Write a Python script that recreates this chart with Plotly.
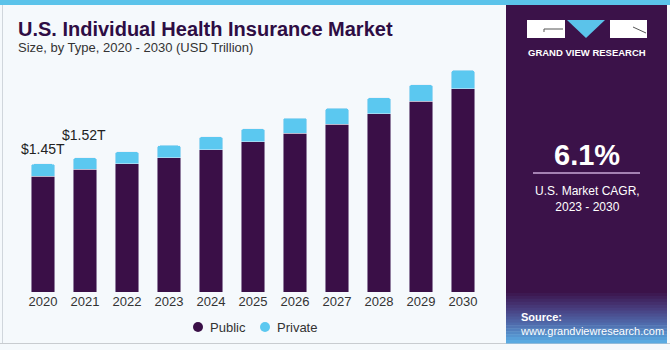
import plotly.graph_objects as go

years = ["2020", "2021", "2022", "2023", "2024", "2025", "2026", "2027", "2028", "2029", "2030"]
public = [1.31, 1.39, 1.45, 1.52, 1.61, 1.70, 1.80, 1.90, 2.02, 2.16, 2.30]
private = [0.14, 0.13, 0.14, 0.14, 0.15, 0.15, 0.17, 0.18, 0.18, 0.19, 0.21]
series_names = ["Public", "Private"]
value_labels = {"2020": "$1.45T", "2021": "$1.52T"}
title = "U.S. Individual Health Insurance Market"
subtitle = "Size, by Type, 2020 - 2030 (USD Trillion)"
cagr = "6.1%"
cagr_text = "U.S. Market CAGR,<br>2023 - 2030"

W, H = 670, 350
L, R, T, B = 22, 484, 62, 292
SCALE = 88.28  # px per trillion
DARK = "#3a0f47"
LIGHT = "#5bc8f0"
BG = "#f5f9fc"
PANEL = "#3b1249"
FONT = "Liberation Sans"


def px(x):
    return (x - L) / (R - L)


def py(y):
    return (B - y) / (B - T)


fig = go.Figure()
fig.add_trace(go.Bar(x=years, y=public, name=series_names[0], marker_color=DARK, showlegend=False))
fig.add_trace(go.Bar(x=years, y=private, name=series_names[1], marker_color=LIGHT, showlegend=False))

shapes = []
shapes.append(dict(type="rect", xref="paper", yref="paper", x0=px(0), x1=px(W), y0=py(0), y1=py(5),
                   fillcolor="#5bc3ea", line_width=0, layer="below"))
shapes.append(dict(type="line", xref="paper", yref="paper", x0=px(2.5), x1=px(2.5), y0=py(5), y1=py(343),
                   line=dict(color="#d0d6dc", width=1), layer="below"))
shapes.append(dict(type="line", xref="paper", yref="paper", x0=px(0), x1=px(W), y0=py(343.5), y1=py(343.5),
                   line=dict(color="#c8ccd0", width=1), layer="below"))
shapes.append(dict(type="rect", xref="paper", yref="paper", x0=px(506), x1=px(667), y0=py(5), y1=py(290),
                   fillcolor=PANEL, line_width=0, layer="below"))
stops = [(59, 18, 73), (72, 60, 125), (80, 110, 175), (90, 170, 225)]
n = 18
y0, y1 = 290, 343
for i in range(n):
    t = i / (n - 1)
    seg = t * (len(stops) - 1)
    k = min(int(seg), len(stops) - 2)
    f = seg - k
    c = tuple(int(stops[k][j] + (stops[k + 1][j] - stops[k][j]) * f) for j in range(3))
    ya = y0 + (y1 - y0) * i / n
    yb = y0 + (y1 - y0) * (i + 1) / n + 0.5
    shapes.append(dict(type="rect", xref="paper", yref="paper", x0=px(506), x1=px(667), y0=py(ya), y1=py(yb),
                       fillcolor="rgb(%d,%d,%d)" % c, line_width=0, layer="below"))
shapes.append(dict(type="rect", xref="paper", yref="paper", x0=px(527), x1=px(565), y0=py(20), y1=py(38),
                   fillcolor="white", line_width=0))
shapes.append(dict(type="rect", xref="paper", yref="paper", x0=px(610), x1=px(647), y0=py(20), y1=py(38),
                   fillcolor="white", line_width=0))
shapes.append(dict(type="path", xref="paper", yref="paper",
                   path="M %f %f L %f %f L %f %f Z" % (px(567), py(20), px(605), py(20), px(586), py(38)),
                   fillcolor="#5bc3ea", line_width=0))
shapes.append(dict(type="path", xref="paper", yref="paper",
                   path="M %f %f L %f %f L %f %f" % (px(544), py(32), px(544), py(29), px(563), py(29)),
                   line=dict(color="#555", width=1)))
shapes.append(dict(type="line", xref="paper", yref="paper", x0=px(633), x1=px(646), y0=py(27), y1=py(33),
                   line=dict(color="#555", width=1)))
shapes.append(dict(type="line", xref="paper", yref="paper", x0=px(533), x1=px(640), y0=py(173), y1=py(173),
                   line=dict(color="#c9a9d6", width=1.5)))

annotations = []
annotations.append(dict(text="<b>" + title + "</b>", xref="paper", yref="paper", x=px(16), y=py(29),
                        xanchor="left", yanchor="middle", showarrow=False,
                        font=dict(family=FONT, size=20, color="#2e0d44")))
annotations.append(dict(text=subtitle, xref="paper", yref="paper", x=px(16), y=py(48),
                        xanchor="left", yanchor="middle", showarrow=False,
                        font=dict(family=FONT, size=13, color="#333333")))
step = (R - L) / len(years)
for i, yr in enumerate(years):
    if yr in value_labels:
        cx = L + step * (i + 0.5) - (0 if i == 0 else 1)
        top = B - (public[i] + private[i]) * SCALE
        annotations.append(dict(text=value_labels[yr], xref="paper", yref="paper", x=px(cx),
                                y=py(top - (5 if i == 0 else 13)), xanchor="center", yanchor="bottom",
                                showarrow=False, font=dict(family=FONT, size=14, color="#222222")))
# manual legend with circle markers
leg = [(198, DARK, series_names[0]), (265, LIGHT, series_names[1])]
for cx, col, name in leg:
    shapes.append(dict(type="circle", xref="paper", yref="paper", x0=px(cx - 5), x1=px(cx + 5),
                       y0=py(327 - 5), y1=py(327 + 5), fillcolor=col, line_width=0))
    annotations.append(dict(text=name, xref="paper", yref="paper", x=px(cx + 10), y=py(327),
                            xanchor="left", yanchor="middle", showarrow=False,
                            font=dict(family=FONT, size=13, color="#333333")))
annotations.append(dict(text="<b>GRAND VIEW RESEARCH</b>", xref="paper", yref="paper", x=px(587), y=py(52),
                        xanchor="center", yanchor="middle", showarrow=False,
                        font=dict(family=FONT, size=9.5, color="white")))
annotations.append(dict(text="<b>" + cagr + "</b>", xref="paper", yref="paper", x=px(587), y=py(155),
                        xanchor="center", yanchor="middle", showarrow=False,
                        font=dict(family=FONT, size=29, color="white")))
annotations.append(dict(text=cagr_text, xref="paper", yref="paper", x=px(587), y=py(199),
                        xanchor="center", yanchor="middle", showarrow=False,
                        font=dict(family=FONT, size=12, color="white")))
annotations.append(dict(text="<b>Source:</b><br>www.grandviewresearch.com", xref="paper", yref="paper",
                        x=px(518), y=py(324), xanchor="left", yanchor="middle", align="left",
                        showarrow=False, font=dict(family=FONT, size=11, color="white")))

fig.update_layout(
    width=W, height=H,
    margin=dict(l=L, r=W - R, t=T, b=H - B, pad=0),
    paper_bgcolor=BG, plot_bgcolor=BG,
    barmode="stack", bargap=0.43, barcornerradius=3,
    shapes=shapes, annotations=annotations,
    showlegend=False,
    xaxis=dict(type="category", range=[-0.5, 10.5], showgrid=False, zeroline=False, showline=False,
               ticks="", tickfont=dict(family=FONT, size=13, color="#333333"), fixedrange=True),
    yaxis=dict(range=[0, (B - T) / SCALE], visible=False, showgrid=False, fixedrange=True),
    font=dict(family=FONT),
)

fig.write_html("out.html")
